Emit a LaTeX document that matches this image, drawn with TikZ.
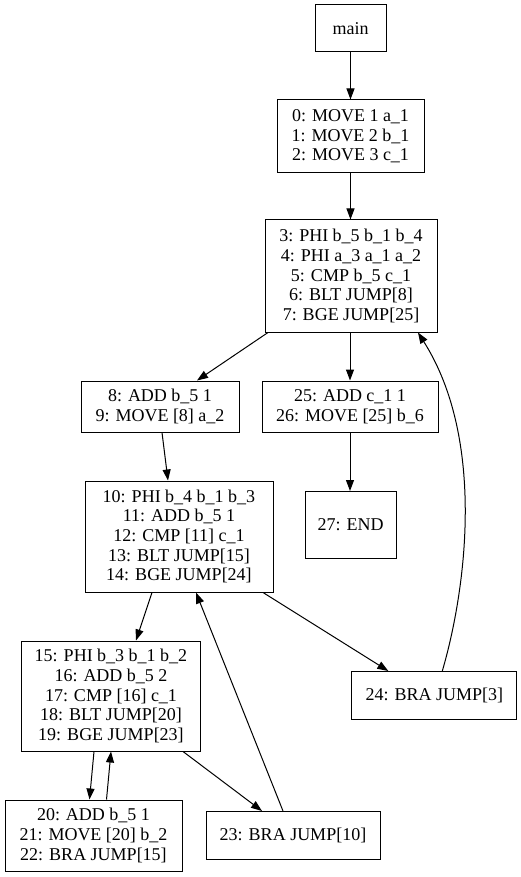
\documentclass[tikz,border=0pt]{standalone}
\usepackage{fontspec}
\setmainfont{Liberation Serif}
\usetikzlibrary{arrows.meta}
\begin{document}
\begin{tikzpicture}[x=1pt,y=-1pt,
  blk/.style={draw,line width=1pt,inner sep=0pt,align=center,font=\fontsize{18}{19.6}\selectfont},
  edge/.style={line width=1pt,-{Triangle[length=11pt,width=8pt]}}]
\useasboundingbox (0,0) rectangle (521,877);
\node[blk,minimum width=71pt,minimum height=47pt] (main) at (350.5,28.5) {main};
\node[blk,minimum width=147pt,minimum height=73pt] (b0) at (350.5,136.5) {0: MOVE 1 a\_1\\1: MOVE 2 b\_1\\2: MOVE 3 c\_1};
\node[blk,minimum width=172pt,minimum height=112pt] (b3) at (351,276) {3: PHI b\_5 b\_1 b\_4\\4: PHI a\_3 a\_1 a\_2\\5: CMP b\_5 c\_1\\6: BLT JUMP[8]\\7: BGE JUMP[25]};
\node[blk,minimum width=158pt,minimum height=51pt] (b8) at (160,406.5) {8: ADD b\_5 1\\9: MOVE [8] a\_2};
\node[blk,minimum width=176pt,minimum height=51pt] (b25) at (350,406.5) {25: ADD c\_1 1\\26: MOVE [25] b\_6};
\node[blk,minimum width=188pt,minimum height=111pt] (b10) at (179,536.5) {10: PHI b\_4 b\_1 b\_3\\11: ADD b\_5 1\\12: CMP [11] c\_1\\13: BLT JUMP[15]\\14: BGE JUMP[24]};
\node[blk,minimum width=91pt,minimum height=67pt] (b27) at (350.5,525) {27: END};
\node[blk,minimum width=179pt,minimum height=110pt] (b15) at (111,696) {15: PHI b\_3 b\_1 b\_2\\16: ADD b\_5 2\\17: CMP [16] c\_1\\18: BLT JUMP[20]\\19: BGE JUMP[23]};
\node[blk,minimum width=165pt,minimum height=48pt] (b24) at (434.3,695.5) {24: BRA JUMP[3]};
\node[blk,minimum width=177pt,minimum height=71pt] (b20) at (93.5,835.5) {20: ADD b\_5 1\\21: MOVE [20] b\_2\\22: BRA JUMP[15]};
\node[blk,minimum width=174pt,minimum height=48pt] (b23) at (293,835.5) {23: BRA JUMP[10]};
\draw[edge] (main.south) -- (main.south |- b0.north);
\draw[edge] (b0.south) -- (b0.south |- b3.north);
\draw[edge] ([xshift=-83pt]b3.south) -- ([xshift=37pt]b8.north);
\draw[edge] ([xshift=-1pt]b3.south) -- ([xshift=-1pt]b3.south |- b25.north);
\draw[edge] ([xshift=8pt]b24.north) .. controls (466,590) and (486,440) .. ([xshift=67pt]b3.south);
\draw[edge] (b25.south) -- (b25.south |- b27.north);
\draw[edge] ([xshift=2pt]b8.south) -- ([xshift=-11pt]b10.north);
\draw[edge] ([xshift=-27pt]b10.south) -- ([xshift=25pt]b15.north);
\draw[edge] ([xshift=84pt]b10.south) -- ([xshift=-46pt]b24.north);
\draw[edge] ([xshift=-10pt]b23.north) -- ([xshift=17pt]b10.south);
\draw[edge] ([xshift=-17pt]b15.south) -- ([xshift=-4pt]b20.north);
\draw[edge] ([xshift=13pt]b20.north) -- ([xshift=0pt]b15.south);
\draw[edge] ([xshift=72pt]b15.south) -- ([xshift=-31pt]b23.north);
\end{tikzpicture}
\end{document}
